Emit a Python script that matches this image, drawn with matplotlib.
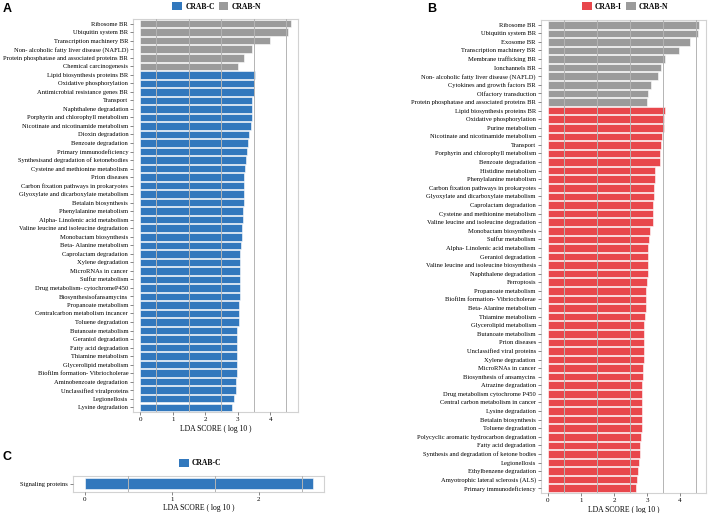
import matplotlib
matplotlib.use("Agg")
import matplotlib.pyplot as plt
from matplotlib.patches import Patch

plt.rcParams['font.family'] = ['Liberation Serif', 'DejaVu Serif']

BLUE = "#3278bd"
RED = "#e8474c"
GRAY = "#9b9b9b"

# panel A: CRAB-C vs CRAB-N
labels_a = [
	"Ribosome BR", "Ubiquitin system BR", "Transcription machinery BR",
	"Non- alcoholic fatty liver disease (NAFLD)", "Protein phosphatase and associated proteins BR",
	"Chemical carcinogenesis", "Lipid biosynthesis proteins BR", "Oxidative phosphorylation",
	"Antimicrobial resistance genes BR", "Transport", "Naphthalene degradation",
	"Porphyrin and chlorophyll metabolism", "Nicotinate and nicotinamide metabolism",
	"Dioxin degradation", "Benzoate degradation", "Primary immunodeficiency",
	"Synthesisand degradation of ketonebodies", "Cysteine and methionine metabolism",
	"Prion diseases", "Carbon fixation pathways in prokaryotes",
	"Glyoxylate and dicarboxylate metabolism", "Betalain biosynthesis",
	"Phenylalanine metabolism", "Alpha- Linolenic acid metabolism",
	"Valine leucine and isoleucine degradation", "Monobactam biosynthesis",
	"Beta- Alanine metabolism", "Caprolactam degradation", "Xylene degradation",
	"MicroRNAs in cancer", "Sulfur metabolism", "Drug metabolism- cytochromeP450",
	"Biosynthesisofansamycins", "Propanoate metabolism", "Centralcarbon metabolism incancer",
	"Toluene degradation", "Butanoate metabolism", "Geraniol degradation",
	"Fatty acid degradation", "Thiamine metabolism", "Glycerolipid metabolism",
	"Biofilm formation- Vibriocholerae", "Aminobenzoate degradation",
	"Unclassified viralproteins", "Legionellosis", "Lysine degradation",
]
scores_a = [
	4.64, 4.54, 3.99, 3.43, 3.21, 3.02, 3.54, 3.51, 3.51, 3.45, 3.45, 3.43, 3.42,
	3.35, 3.31, 3.30, 3.26, 3.23, 3.21, 3.20, 3.20, 3.20, 3.17, 3.16, 3.14, 3.14,
	3.10, 3.08, 3.08, 3.08, 3.07, 3.06, 3.06, 3.04, 3.04, 3.04, 2.99, 2.99, 2.99,
	2.98, 2.98, 2.97, 2.96, 2.96, 2.90, 2.84,
]
groups_a = ["CRAB-N"] * 6 + ["CRAB-C"] * 40

# panel B: CRAB-I vs CRAB-N
labels_b = [
	"Ribosome BR", "Ubiquitin system BR", "Exosome BR", "Transcription machinery BR",
	"Membrane trafficking BR", "Ionchannels BR", "Non- alcoholic fatty liver disease (NAFLD)",
	"Cytokines and growth factors BR", "Olfactory transduction",
	"Protein phosphatase and associated proteins BR", "Lipid biosynthesis proteins BR",
	"Oxidative phosphorylation", "Purine metabolism", "Nicotinate and nicotinamide metabolism",
	"Transport", "Porphyrin and chlorophyll metabolism", "Benzoate degradation",
	"Histidine metabolism", "Phenylalanine metabolism", "Carbon fixation pathways in prokaryotes",
	"Glyoxylate and dicarboxylate metabolism", "Caprolactam degradation",
	"Cysteine and methionine metabolism", "Valine leucine and isoleucine degradation",
	"Monobactam biosynthesis", "Sulfur metabolism", "Alpha- Linolenic acid metabolism",
	"Geraniol degradation", "Valine leucine and isoleucine biosynthesis",
	"Naphthalene degradation", "Ferroptosis", "Propanoate metabolism",
	"Biofilm formation- Vibriocholerae", "Beta- Alanine metabolism", "Thiamine metabolism",
	"Glycerolipid metabolism", "Butanoate metabolism", "Prion diseases",
	"Unclassified viral proteins", "Xylene degradation", "MicroRNAs in cancer",
	"Biosynthesis of ansamycins", "Atrazine degradation", "Drug metabolism cytochrome P450",
	"Central carbon metabolism in cancer", "Lysine degradation", "Betalain biosynthesis",
	"Toluene degradation", "Polycyclic aromatic hydrocarbon degradation",
	"Fatty acid degradation", "Synthesis and degradation of ketone bodies", "Legionellosis",
	"Ethylbenzene degradation", "Amyotrophic lateral sclerosis (ALS)", "Primary immunodeficiency",
]
scores_b = [
	4.57, 4.54, 4.30, 3.98, 3.56, 3.44, 3.34, 3.11, 3.02, 2.99,
	3.56, 3.53, 3.51, 3.47, 3.43, 3.41, 3.41, 3.25, 3.23, 3.21, 3.21, 3.19, 3.19,
	3.18, 3.09, 3.06, 3.04, 3.04, 3.03, 3.02, 2.99, 2.98, 2.97, 2.96, 2.95, 2.92,
	2.92, 2.91, 2.90, 2.90, 2.88, 2.87, 2.86, 2.86, 2.85, 2.85, 2.84, 2.84, 2.81,
	2.80, 2.79, 2.76, 2.74, 2.69, 2.67,
]
groups_b = ["CRAB-N"] * 10 + ["CRAB-I"] * 45

# panel C
labels_c = ["Signaling proteins"]
scores_c = [2.62]
groups_c = ["CRAB-C"]

colors = {"CRAB-C": BLUE, "CRAB-I": RED, "CRAB-N": GRAY}


def draw_panel(ax, labels, scores, groups, xlim, ticks, height=0.88):
	y = list(range(len(labels)))
	ax.barh(y, scores, height=height, color=[colors[g] for g in groups],
		edgecolor="white", linewidth=0.4, zorder=1)
	ax.set_yticks(y)
	ax.set_yticklabels(labels)
	ax.set_ylim(len(labels) - 0.45, -0.55)
	ax.set_xlim(*xlim)
	ax.set_xticks(ticks)
	ax.set_xticks([t + 0.5 for t in ticks], minor=True)
	ax.grid(which="minor", axis="x", color="#b4b4b4", linewidth=0.7)
	ax.set_axisbelow(False)
	for s in ax.spines.values():
		s.set_color("#d2d2d2")
		s.set_linewidth(0.8)
	ax.tick_params(which="major", length=2, width=0.5, color="#555555", labelsize=5, pad=1.5)
	ax.tick_params(axis="y", labelsize=4.7)
	ax.tick_params(which="minor", length=0)
	ax.set_xlabel("LDA SCORE ( log 10 )", fontsize=5.5, labelpad=2)


def add_legend(fig, names, x, y):
	handles = [Patch(facecolor=colors[n], edgecolor="none", label=n) for n in names]
	fig.legend(handles=handles, loc="center", bbox_to_anchor=(x, y), ncol=len(names),
		frameon=False, prop=dict(weight="bold", size=5.5), handlelength=1.3,
		handleheight=1.3, columnspacing=0.5, handletextpad=0.4, borderpad=0)


fig = plt.figure(figsize=(7.08, 5.13), dpi=100)

ax_a = fig.add_axes([0.188, 0.197, 0.233, 0.766])
draw_panel(ax_a, labels_a, scores_a, groups_a, (-0.22, 4.86), [0, 1, 2, 3, 4])

ax_b = fig.add_axes([0.7637, 0.039, 0.2335, 0.922])
draw_panel(ax_b, labels_b, scores_b, groups_b, (-0.22, 4.79), [0, 1, 2, 3, 4])

ax_c = fig.add_axes([0.1027, 0.0415, 0.355, 0.0312])
draw_panel(ax_c, labels_c, scores_c, groups_c, (-0.14, 2.75), [0, 1, 2], height=1.0)
ax_c.set_ylim(0.72, -0.72)

add_legend(fig, ["CRAB-C", "CRAB-N"], 0.306, 0.988)
add_legend(fig, ["CRAB-I", "CRAB-N"], 0.883, 0.988)
add_legend(fig, ["CRAB-C"], 0.283, 0.0975)

for letter, x, y in [("A", 0.004, 0.982), ("B", 0.603, 0.982), ("C", 0.004, 0.11)]:
	fig.text(x, y, letter, fontsize=9, weight="bold", family="Liberation Sans", va="center")

fig.savefig("out.png", dpi=100, facecolor="white")
